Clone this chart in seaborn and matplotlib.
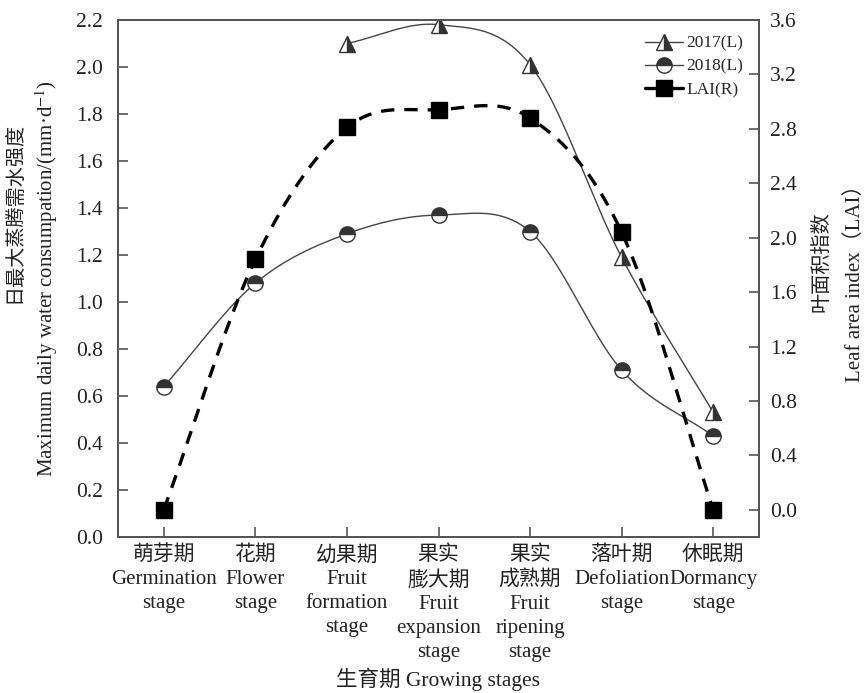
import numpy as np
import pandas as pd
import matplotlib
matplotlib.use('Agg')
import matplotlib.pyplot as plt
import seaborn as sns
from matplotlib.lines import Line2D

# growth stage labels (Chinese + English)
stages = ['萌芽期\nGermination\nstage', '花期\nFlower\nstage', '幼果期\nFruit\nformation\nstage',
          '果实\n膨大期\nFruit\nexpansion\nstage', '果实\n成熟期\nFruit\nripening\nstage',
          '落叶期\nDefoliation\nstage', '休眠期\nDormancy\nstage']

# 2017 only measured from fruit formation onwards
idx_2017 = [2, 3, 4, 5, 6]
wc_2017 = [2.10, 2.18, 2.01, 1.19, 0.53]
wc_2018 = [0.64, 1.08, 1.29, 1.37, 1.30, 0.71, 0.43]
lai = [0.0, 1.84, 2.81, 2.94, 2.88, 2.04, 0.0]


def smooth(x, y, n=40):
    """Catmull-Rom style cubic Hermite curve through the points (display only)."""
    x = np.asarray(x, float)
    y = np.asarray(y, float)
    m = np.gradient(y, x)
    xs, ys = [], []
    for i in range(len(x) - 1):
        h = x[i + 1] - x[i]
        t = np.linspace(0, 1, n, endpoint=False)
        h00 = 2 * t**3 - 3 * t**2 + 1
        h10 = t**3 - 2 * t**2 + t
        h01 = -2 * t**3 + 3 * t**2
        h11 = t**3 - t**2
        xs.append(x[i] + t * h)
        ys.append(h00 * y[i] + h10 * h * m[i] + h01 * y[i + 1] + h11 * h * m[i + 1])
    xs.append([x[-1]])
    ys.append([y[-1]])
    return pd.DataFrame({'x': np.concatenate(xs), 'y': np.concatenate(ys)})


sns.set_theme(style='ticks')
plt.rcParams['font.family'] = ['Liberation Serif', 'Noto Sans CJK SC']
plt.rcParams['mathtext.fontset'] = 'stix'
plt.rcParams['axes.edgecolor'] = '#555555'
plt.rcParams['axes.linewidth'] = 1.4

W, H = 867, 693
fig, ax = plt.subplots(figsize=(8.67, 6.93), dpi=100)
fig.subplots_adjust(left=118 / W, right=759 / W, bottom=1 - 537 / H, top=1 - 20 / H)
ax2 = ax.twinx()

x_all = np.arange(len(stages))

# smooth curves
sns.lineplot(data=smooth(idx_2017, wc_2017), x='x', y='y', ax=ax, color='#444444', lw=1.0, sort=False)
sns.lineplot(data=smooth(x_all, wc_2018), x='x', y='y', ax=ax, color='#444444', lw=1.0, sort=False)
sns.lineplot(data=smooth(x_all, lai), x='x', y='y', ax=ax2, color='black', lw=2.4, sort=False,
             dashes=False, linestyle=(0, (4, 3)))

tri_kw = dict(marker='^', fillstyle='right', markerfacecolor='#333333',
              markerfacecoloralt='white', markeredgecolor='#333333', markersize=12, mew=1.0)
cir_kw = dict(marker='o', fillstyle='top', markerfacecolor='#333333',
              markerfacecoloralt='white', markeredgecolor='#333333', markersize=11, mew=1.0)
sq_kw = dict(marker='s', markerfacecolor='black', markeredgecolor='black', markersize=11)

ax.plot(idx_2017, wc_2017, ls='none', zorder=5, **tri_kw)
ax.plot(x_all, wc_2018, ls='none', zorder=5, **cir_kw)
ax2.plot(x_all, lai, ls='none', zorder=5, **sq_kw)

ax.set_xlim(-0.5, 6.5)
ax.set_ylim(0, 2.2)
ax2.set_ylim(-0.2, 3.6)
ax.set_yticks(np.arange(0, 2.21, 0.2))
ax.set_yticklabels([f'{v:.1f}' for v in np.arange(0, 2.21, 0.2)])
ax2.set_yticks(np.arange(0, 3.61, 0.4))
ax2.set_yticklabels([f'{v:.1f}' for v in np.arange(0, 3.61, 0.4)])
ax.set_xticks(x_all)
ax.set_xticklabels(stages, linespacing=1.35)

for a in (ax, ax2):
    a.tick_params(direction='in', length=7, width=1.2, color='#555555', labelsize=15.5,
                  labelcolor='#222222')
ax.tick_params(axis='x', labelsize=15, pad=6)
ax.tick_params(axis='y', pad=11)
ax2.tick_params(axis='y', pad=8)

ax.set_xlabel('生育期 Growing stages', fontsize=15.5, color='#222222', labelpad=4)
ax.set_ylabel('Maximum daily water consumpation/(mm·d$^{-1}$)', fontsize=15, color='#222222',
              va='center')
ax.yaxis.set_label_coords(-(118 - 47) / 641, 0.5)
ax2.set_ylabel('Leaf area index（LAI）', fontsize=15, color='#222222', va='center')
ax2.yaxis.set_label_coords(1 + (855 - 759) / 641, 0.5)

# Chinese parts of the axis titles
fig.text(15 / W, 1 - 212 / H, '日最大蒸腾需水强度', rotation=90, fontsize=14.5,
         color='#222222', ha='center', va='center')
fig.text(822 / W, 1 - 262 / H, '叶面积指数', rotation=90, fontsize=14.5,
         color='#222222', ha='center', va='center')

handles = [Line2D([], [], color='#444444', lw=1.0, **tri_kw),
           Line2D([], [], color='#444444', lw=1.0, **cir_kw),
           Line2D([], [], color='black', lw=2.4, **sq_kw)]
ax.legend(handles, ['2017(L)', '2018(L)', 'LAI(R)'], loc='upper right', frameon=False,
          fontsize=12.5, handlelength=2.2, handletextpad=0.2, labelspacing=0.4,
          bbox_to_anchor=(1.0, 1.0))

fig.savefig('out.png', dpi=100)
